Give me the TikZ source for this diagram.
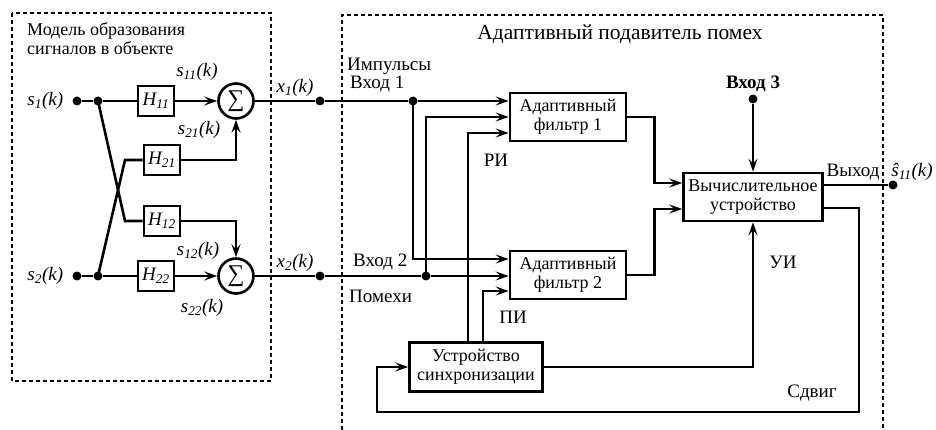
\documentclass[tikz,border=0pt]{standalone}
\usepackage{fontspec}
\setmainfont{Liberation Serif}
\usetikzlibrary{arrows.meta, positioning, calc}

\newcommand{\sgn}[2]{{\itshape #1\textsubscript{#2}(k)}}
\newcommand{\hsub}[2]{{\itshape #1\textsubscript{#2}}}

\tikzset{
  blk/.style={draw, line width=2.6pt, fill=white, align=center, inner sep=2pt,
    font=\fontsize{18}{19}\selectfont},
  hblk/.style={blk, minimum width=36pt, minimum height=30pt},
  fblk/.style={blk, minimum width=116pt, minimum height=48pt},
  sumc/.style={draw, circle, line width=2.6pt, minimum size=35pt, inner sep=0pt, fill=white,
    font=\fontsize{24}{24}\selectfont},
  jdot/.style={circle, fill, minimum size=9pt, inner sep=0pt},
  wire/.style={line width=2.6pt},
  arr/.style={wire, ->},
  frame/.style={line width=1.2pt, dash pattern=on 4pt off 3pt},
  lbl/.style={inner sep=0pt},
  ttl/.style={inner sep=0pt, font=\fontsize{21.5}{19}\selectfont},
  sig/.style={inner sep=0pt, font=\fontsize{19}{21}\selectfont\itshape}
}

\begin{document}
\begin{tikzpicture}[x=1pt, y=-1pt, font=\fontsize{19}{20}\selectfont, >={Stealth[length=13pt,width=9pt,inset=5pt]}]
    \useasboundingbox (0,0) rectangle (936,430);

    % dashed frames
    \draw [frame] (12,13) rectangle (271,381);
    \draw [frame] (342,430) -- (342,15) -- (883,15) -- (883,430);
    \node [ttl, font=\fontsize{18}{19}\selectfont, anchor=north west, align=left] (mtitle) at (27,22) {Модель образования\\сигналов в объекте};
    \node [ttl] (atitle) at (620,34) {Адаптивный подавитель помех};

    % signal model
    \node [jdot] (d11) at (77,101) {};
    \node [jdot] (d12) at (98,101) {};
    \node [jdot] (d21) at (77,276) {};
    \node [jdot] (d22) at (98,276) {};
    \node [hblk, font=\fontsize{19}{19}\selectfont] (h11) at (156,101) {\hsub{H}{11}};
    \node [hblk, font=\fontsize{19}{19}\selectfont] (h21) at (162,160) {\hsub{H}{21}};
    \node [hblk, font=\fontsize{19}{19}\selectfont] (h12) at (162,221) {\hsub{H}{12}};
    \node [hblk, font=\fontsize{19}{19}\selectfont] (h22) at (156,276) {\hsub{H}{22}};
    \node [sumc] (sum1) at (236,101) {∑};
    \node [sumc] (sum2) at (236,276) {∑};
    \coordinate (k12) at (125,221);
    \coordinate (k21) at (125,160);

    \node [sig, left=9pt of d11] {\sgn{s}{1}};
    \node [sig, left=9pt of d21] {\sgn{s}{2}};
    \node [sig] at (197,72) {\sgn{s}{11}};
    \node [sig] at (199,130) {\sgn{s}{21}};
    \node [sig] at (198,251) {\sgn{s}{12}};
    \node [sig] at (202,308) {\sgn{s}{22}};

    \draw [wire] (d11) -- (d12) -- (h11);
    \draw [wire] (d21) -- (d22) -- (h22);
    \draw [wire] (d12.center) -- (k12) -- (h12);
    \draw [wire] (d22.center) -- (k21) -- (h21);
    \draw [arr] (h11) -- (sum1);
    \draw [arr] (h22) -- (sum2);
    \draw [arr] (h21) -| (sum1);
    \draw [arr] (h12) -| (sum2);

    % adaptive canceller
    \node [jdot] (x1d) at (320,101) {};
    \node [jdot] (x2d) at (320,276) {};
    \node [jdot] (in1) at (413,101) {};
    \node [jdot] (in2) at (426,276) {};
    \node [sig] at (295,88) {\sgn{x}{1}};
    \node [sig] at (295,263) {\sgn{x}{2}};

    \node [fblk] (filt1) at (568,117) {Адаптивный\\фильтр 1};
    \node [fblk] (filt2) at (568,275) {Адаптивный\\фильтр 2};
    \node [blk, minimum width=139pt, minimum height=48pt] (calc) at (753,197) {Вычислительное\\устройство};
    \node [blk, minimum width=133pt, minimum height=49pt] (sync) at (476,367) {Устройство\\синхронизации};
    \node [jdot] (in3) at (753,99) {};
    \node [jdot] (outd) at (893,185) {};

    \node [lbl, anchor=west] at (347,66) {Импульсы};
    \node [lbl, anchor=west] at (350,84) {Вход 1};
    \node [lbl, anchor=west] at (353,262) {Вход 2};
    \node [lbl, anchor=west] at (349,296) {Помехи};
    \node [lbl] at (496,160) {РИ};
    \node [lbl] at (513,317) {ПИ};
    \node [lbl] at (783,262) {УИ};
    \node [lbl] at (812,393) {Сдвиг};
    \node [lbl, font=\fontsize{19}{21}\selectfont\bfseries] at (753,84) {Вход 3};
    \node [lbl] at (853,172) {Выход};
    \node [sig] at (912,172) {\sgn{ŝ}{11}};

    \draw [wire] (sum1) -- (x1d) -- (in1);
    \draw [wire] (sum2) -- (x2d) -- (in2);
    \draw [arr] (in1) -- (in1 -| filt1.west);
    \draw [arr] (in1.center) |- ($(filt2.west)+(0,-16)$);
    \draw [arr] (in2) -- (in2 -| filt2.west);
    \draw [arr] (in2.center) |- ($(filt1.west)+(0,0)$);
    \draw [arr] ($(sync.north)+(-8,0)$) |- ($(filt1.west)+(0,16)$);
    \draw [arr] ($(sync.north)+(7,0)$) |- ($(filt2.west)+(0,16)$);

    \draw [arr] (filt1.east) -- ++(27,0) |- ($(calc.west)+(0,-14)$);
    \draw [arr] (filt2.east) -- ++(27,0) |- ($(calc.west)+(0,12)$);
    \draw [arr] (in3) -- (calc.north);
    \draw [arr] (sync.east) -| (calc.south);
    \draw [wire] ($(calc.east)+(0,-12)$) -- (outd);
    \draw [arr] ($(calc.east)+(0,11)$) -- ++(35,0) |- (377,412) |- (sync.west);
\end{tikzpicture}
\end{document}
